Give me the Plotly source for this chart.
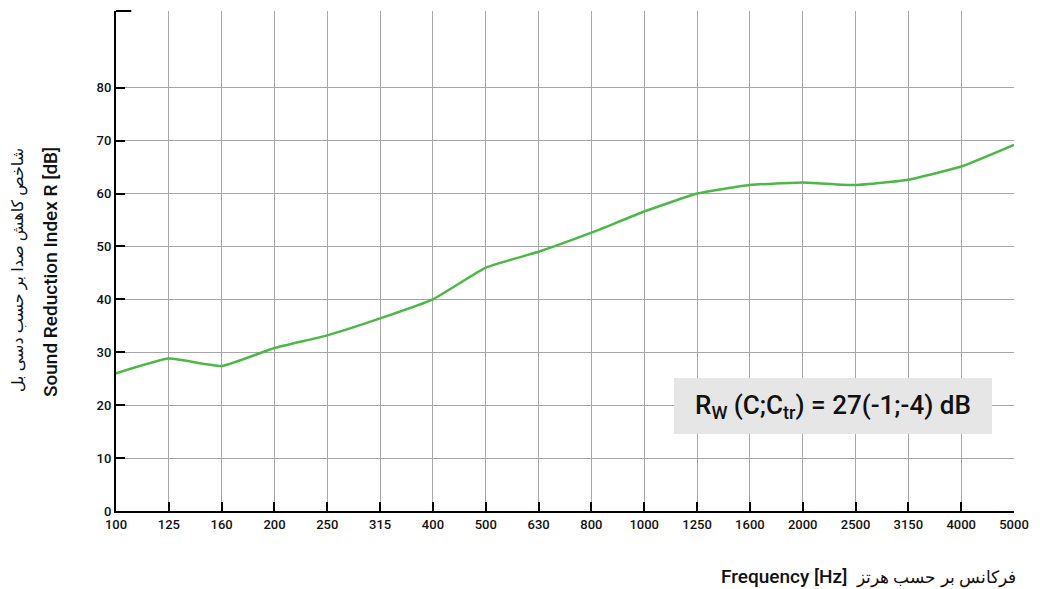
import plotly.graph_objects as go

freqs = ["100", "125", "160", "200", "250", "315", "400", "500", "630", "800",
         "1000", "1250", "1600", "2000", "2500", "3150", "4000", "5000"]
r_values = [26.0, 28.8, 27.4, 30.8, 33.2, 36.4, 40.0, 46.0, 49.0, 52.6,
            56.6, 60.0, 61.6, 62.1, 61.6, 62.6, 65.1, 69.2]
y_ticks = [0, 10, 20, 30, 40, 50, 60, 70, 80]

FONT = "Roboto, Arial"

# page body has an 8px margin, compensate
L, R, T, B = 108, 26, 3, 78
W, H = 1032, 581
PW, PH = W - L - R, H - T - B  # 898 x 500
X0, Y0 = 8 + L, 8 + T  # pixel origin of plot area on screen


def px(x):
    return (x - X0) / PW


def py(y):
    return (Y0 + PH - y) / PH


fig = go.Figure()
fig.add_trace(go.Scatter(
    x=list(range(len(freqs))), y=r_values, mode="lines",
    line=dict(color="#4db848", width=2.5, shape="spline", smoothing=0.4),
    hoverinfo="skip", showlegend=False,
))

tickfont = dict(family=FONT, size=13, color="#111", weight=500)
fig.update_layout(
    width=W, height=H,
    margin=dict(l=L, r=R, t=T, b=B),
    paper_bgcolor="white", plot_bgcolor="white",
    font=dict(family=FONT, size=14, color="#111"),
    xaxis=dict(
        range=[0, len(freqs) - 1], automargin=False,
        tickmode="array", tickvals=list(range(len(freqs))), ticktext=freqs,
        showgrid=True, gridcolor="#a6a6a6", gridwidth=1,
        showline=True, linecolor="black", linewidth=2,
        ticks="inside", ticklen=9, tickwidth=2, tickcolor="black",
        tickfont=tickfont, zeroline=False,
    ),
    yaxis=dict(
        range=[0, 94.5], automargin=False,
        tickmode="array", tickvals=y_ticks,
        showgrid=True, gridcolor="#a6a6a6", gridwidth=1,
        showline=True, linecolor="black", linewidth=2,
        ticks="inside", ticklen=9, tickwidth=2, tickcolor="black",
        tickfont=tickfont, zeroline=False,
    ),
)

# top cap of the y axis
fig.add_shape(type="line", xref="x domain", yref="y domain",
              x0=0, x1=0.017, y0=1, y1=1, line=dict(color="black", width=2))

# y axis titles
fig.add_annotation(xref="paper", yref="paper", x=px(50), y=py(272),
                   xanchor="center", yanchor="middle",
                   text="Sound Reduction Index R [dB]", textangle=-90,
                   showarrow=False, font=dict(family=FONT, size=19, color="#111", weight=500))
fig.add_annotation(xref="paper", yref="paper", x=px(17), y=py(270),
                   xanchor="center", yanchor="middle",
                   text="شاخص کاهش صدا بر حسب دسی بل", textangle=-90,
                   showarrow=False, font=dict(family="Noto Sans, DejaVu Sans", size=16, color="#111"))

# x axis title
fig.add_annotation(xref="paper", yref="paper", x=px(1018), y=py(576),
                   xanchor="right", yanchor="middle",
                   text="Frequency [Hz]  <span style='font-family:Noto Sans;font-size:17px'>فرکانس بر حسب هرتز</span>",
                   showarrow=False, font=dict(family=FONT, size=19, color="#111", weight=500))

# Rw box
fig.add_shape(type="rect", xref="paper", yref="paper",
              x0=px(674), x1=px(992), y0=py(434), y1=py(378),
              fillcolor="#e6e6e6", line=dict(width=0), layer="above")
fig.add_annotation(xref="paper", yref="paper", x=px(833), y=py(406),
                   xanchor="center", yanchor="middle",
                   text="R<sub>W</sub> (C;C<sub>tr</sub>) = 27(-1;-4) dB",
                   showarrow=False, font=dict(family=FONT, size=26, color="#111", weight=500))

fig.write_html("out.html")
